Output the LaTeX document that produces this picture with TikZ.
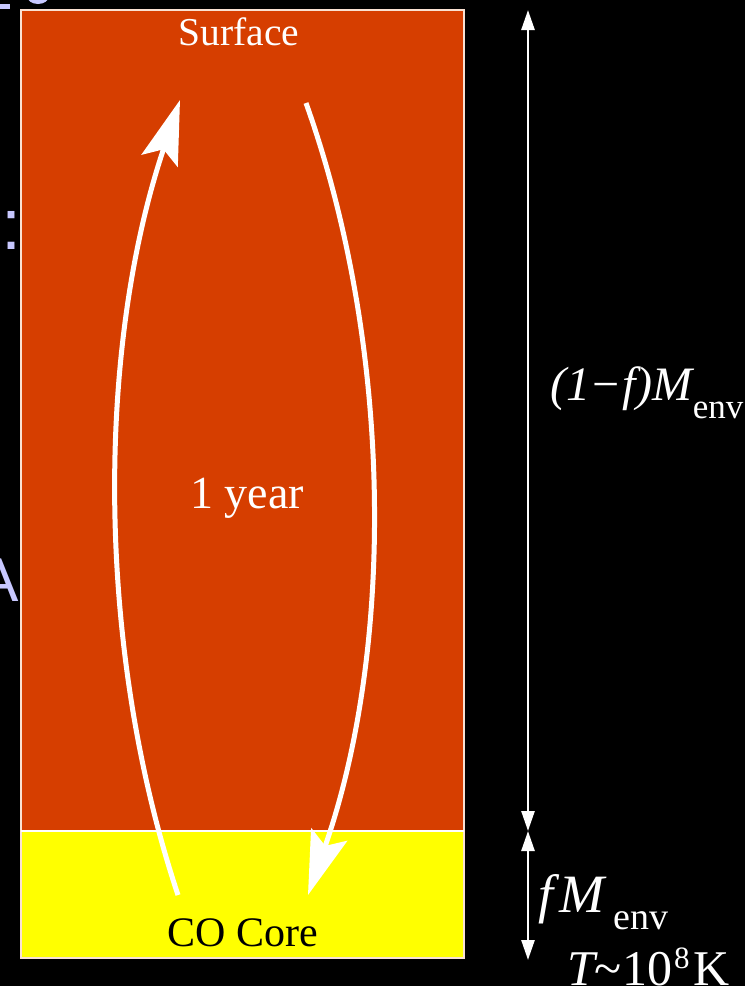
\documentclass[tikz,border=0pt]{standalone}
\usepackage{fontspec}
\setmainfont{Liberation Serif}
\newfontfamily\slidesans{Liberation Sans}
\usetikzlibrary{arrows.meta}
\definecolor{envorange}{RGB}{214,62,0}
\definecolor{coreyellow}{RGB}{255,255,0}
\definecolor{rimcol}{RGB}{250,225,210}
\definecolor{lavender}{RGB}{200,200,255}
\tikzset{
  bigarrow/.style={draw=white, line width=5pt, -{Stealth[length=64pt,width=38pt,inset=12pt]}},
  dimline/.style={draw=white, line width=2.6pt, {Triangle[length=20pt,width=13pt]}-{Triangle[length=20pt,width=13pt]}},
  lbl/.style={inner sep=0pt, anchor=base},
  rlbl/.style={inner sep=0pt, anchor=base west, text=white},
}
\begin{document}
\begin{tikzpicture}[x=1pt,y=-1pt]
\fill[black] (0,0) rectangle (745,986);
\useasboundingbox (0,0) rectangle (745,986);
% slide text fragments at the left edge
\begin{scope}
  \clip (0,0) rectangle (20,986);
  \node[inner sep=0pt, anchor=base west, text=lavender] (colon) at (1.5,249) {\slidesans\fontsize{72}{72}\selectfont :};
  \node[inner sep=0pt, anchor=base west, text=lavender] (fragA) at (-23,601) {\slidesans\fontsize{62}{62}\selectfont A};
  \fill[lavender] (0,4) rectangle (10,9);
\end{scope}
\fill[lavender] (38,-4) ellipse (11pt and 8pt);
% envelope and core
\fill[envorange] (21,10) rectangle (464,831);
\fill[coreyellow] (21,831) rectangle (464,958);
\draw[rimcol, line width=1.3pt] (21,10) rectangle (464,958);
\draw[white, line width=1.3pt] (21,831) -- (464,831);
\node[lbl, text=white] (surface) at (239,45) {\fontsize{39.5}{41}\selectfont Surface};
\node[lbl, text=black] (core) at (243,946) {\fontsize{42}{44}\selectfont CO Core};
\node[lbl, text=white] (year) at (247,508) {\fontsize{46}{48}\selectfont 1 year};
% circulation arrows
\coordinate (ubot) at (178,895);
\coordinate (utop) at (180,100);
\coordinate (dtop) at (306,103);
\coordinate (dbot) at (308,895);
\draw[bigarrow] (ubot) .. controls (96,650) and (96,350) .. (utop);
\draw[bigarrow] (dtop) .. controls (394,350) and (394,650) .. (dbot);
% dimension lines
\coordinate (dimtop) at (528,10);
\coordinate (dimmid) at (528,831);
\coordinate (dimbot) at (528,960);
\draw[dimline] (dimtop) -- (dimmid);
\draw[dimline] (dimmid) -- (dimbot);
\node[rlbl] (menv) at (550,400) {\fontsize{48}{50}\selectfont\itshape (1\kern-1pt−\kern1pt f\kern1pt)M\kern0pt\raisebox{-18pt}{\upshape\fontsize{35}{37}\selectfont env}};
\node[rlbl] (fmenv) at (538,912) {\fontsize{54}{56}\selectfont\itshape f\kern6pt M\kern9pt\raisebox{-17pt}{\upshape\fontsize{38}{40}\selectfont env}};
\node[rlbl] (temp) at (567,985) {\fontsize{50}{52}\selectfont\itshape T\upshape\kern-1pt\char`\~\kern1pt 10\kern2pt\raisebox{17pt}{\fontsize{31}{31}\selectfont 8}\kern4pt K};
\end{tikzpicture}
\end{document}
